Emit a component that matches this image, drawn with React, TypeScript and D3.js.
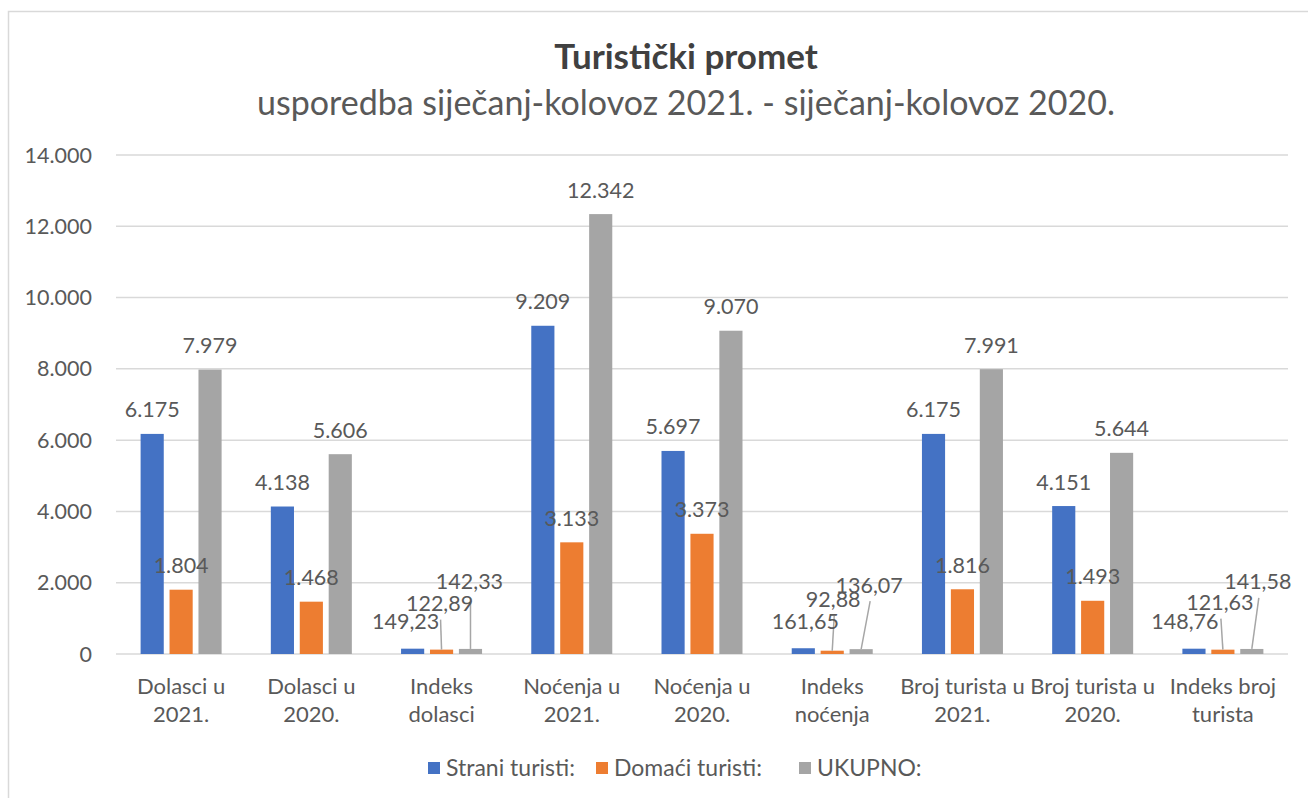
import * as d3 from "d3";

const WIDTH = 1308;
const HEIGHT = 798;
const MARGIN = { top: 155, right: 20, bottom: 144, left: 116 };
const PLOT_RIGHT = 1288;

const categories = [
  ["Dolasci u", "2021."],
  ["Dolasci u", "2020."],
  ["Indeks", "dolasci"],
  ["Noćenja u", "2021."],
  ["Noćenja u", "2020."],
  ["Indeks", "noćenja"],
  ["Broj turista u", "2021."],
  ["Broj turista u", "2020."],
  ["Indeks broj", "turista"],
];
const isIndex = [false, false, true, false, false, true, false, false, true];

const seriesNames = ["Strani turisti:", "Domaći turisti:", "UKUPNO:"];
const colors = ["#4472C4", "#ED7D31", "#A5A5A5"];

const strani = [6175, 4138, 149.23, 9209, 5697, 161.65, 6175, 4151, 148.76];
const domaci = [1804, 1468, 122.89, 3133, 3373, 92.88, 1816, 1493, 121.63];
const ukupno = [7979, 5606, 142.33, 12342, 9070, 136.07, 7991, 5644, 141.58];
const seriesValues = [strani, domaci, ukupno];

const yTicks = [0, 2000, 4000, 6000, 8000, 10000, 12000, 14000];

// label nudges (dx, dy from bar top) for the small "Indeks" bars, moved by hand in the original
const indexNudges: Record<number, [number, number][]> = {
  2: [[-7, -27], [-2, -46], [-1, -67]],
  5: [[2, -27], [1, -51], [8, -64]],
  8: [[-9, -27], [-3, -47], [6, -67]],
};

const hr = d3.formatLocale({
  decimal: ",",
  thousands: ".",
  grouping: [3],
  currency: ["", " €"],
});
const fmtInt = hr.format(",.0f");
const fmtDec = hr.format(",.2f");

const FONT = "Lato, 'Open Sans', sans-serif";
const TEXT = "#595959";
const GRID = "#D9D9D9";

export default function App() {
  const boundsHeight = HEIGHT - MARGIN.top - MARGIN.bottom;

  const x0 = d3
    .scaleBand<number>()
    .domain(categories.map((_, i) => i))
    .range([MARGIN.left, PLOT_RIGHT]);

  const x1 = d3
    .scaleBand<number>()
    .domain([0, 1, 2])
    .range([-40.5, 40.5])
    .paddingInner(0.2);

  const y = d3
    .scaleLinear()
    .domain([0, 14000])
    .range([MARGIN.top + boundsHeight, MARGIN.top]);

  const cx = (i: number) => (x0(i) ?? 0) + x0.bandwidth() / 2;

  const marks = categories.flatMap((_, i) =>
    seriesValues.map((vals, s) => {
      const v = vals[i];
      const bw = x1.bandwidth();
      const bx = cx(i) + (x1(s) ?? 0);
      const top = y(v);
      const nudge = isIndex[i] ? indexNudges[i][s] : [0, -24];
      return {
        key: `${i}-${s}`,
        i,
        s,
        v,
        bx,
        bw,
        top,
        lx: bx + bw / 2 + nudge[0],
        ly: top + nudge[1],
      };
    })
  );

  const legendItems = [
    { x: 428, label: seriesNames[0] },
    { x: 596, label: seriesNames[1] },
    { x: 799, label: seriesNames[2] },
  ];

  return (
    <svg
      width={WIDTH}
      height={HEIGHT}
      style={{ position: "absolute", left: 0, top: 0, background: "#fff" }}
      fontFamily={FONT}
    >
      <rect x={8.5} y={11.5} width={1400} height={900} fill="#fff" stroke={GRID} strokeWidth={1.5} />

      <text x={686} y={69} textAnchor="middle" fontSize={35} fontWeight="bold" fill="#404040">
        Turistički promet
      </text>
      <text x={686} y={115} textAnchor="middle" fontSize={34} fill={TEXT}>
        usporedba siječanj-kolovoz 2021. - siječanj-kolovoz 2020.
      </text>

      {yTicks.map((t) => (
        <g key={t}>
          <line x1={MARGIN.left} x2={PLOT_RIGHT} y1={y(t)} y2={y(t)} stroke={GRID} strokeWidth={1.5} />
          <text x={92} y={y(t)} dy="0.35em" textAnchor="end" fontSize={21.5} fill={TEXT}>
            {fmtInt(t)}
          </text>
        </g>
      ))}

      {marks.map((m) => (
        <rect key={m.key} x={m.bx} y={m.top} width={m.bw} height={y(0) - m.top} fill={colors[m.s]} />
      ))}

      {marks
        .filter((m) => isIndex[m.i] && m.s > 0)
        .map((m) => (
          <line
            key={m.key}
            x1={m.bx + m.bw / 2}
            y1={m.top}
            x2={m.lx + 1}
            y2={m.ly + 16}
            stroke="#A6A6A6"
            strokeWidth={1.5}
          />
        ))}

      {marks.map((m) => (
        <text key={m.key} x={m.lx} y={m.ly} dy="0.35em" textAnchor="middle" fontSize={21.5} fill={TEXT}>
          {isIndex[m.i] ? fmtDec(m.v) : fmtInt(m.v)}
        </text>
      ))}

      {categories.map((cat, i) =>
        cat.map((line, k) => (
          <text
            key={`${i}-${k}`}
            x={cx(i)}
            y={686 + k * 28}
            dy="0.35em"
            textAnchor="middle"
            fontSize={22}
            fill={TEXT}
          >
            {line}
          </text>
        ))
      )}

      {legendItems.map((it, s) => (
        <g key={s}>
          <rect x={it.x} y={762} width={12} height={12} fill={colors[s]} />
          <text x={it.x + 18} y={768} dy="0.35em" fontSize={23} fill={TEXT}>
            {it.label}
          </text>
        </g>
      ))}
    </svg>
  );
}
